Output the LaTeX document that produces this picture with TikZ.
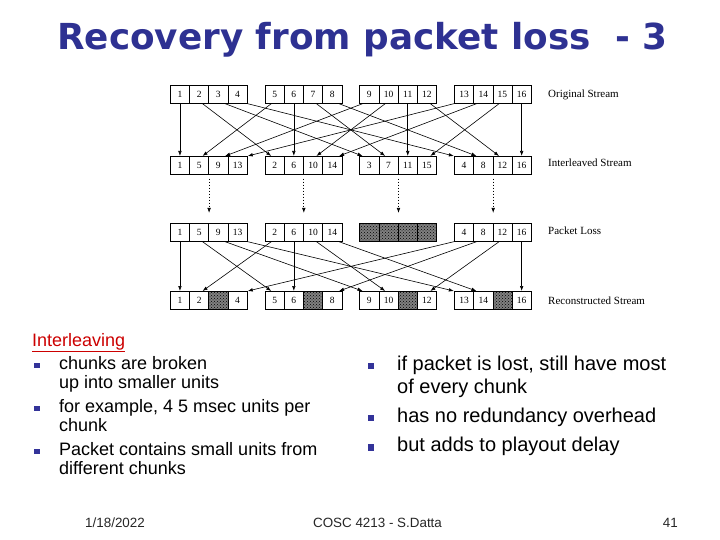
\documentclass[tikz,border=0pt]{standalone}
\usepackage{fontspec}
\setmainfont{Liberation Sans}
\newfontfamily\titlefont{DejaVu Sans}
\newfontfamily\diagfont{Liberation Serif}
\usetikzlibrary{arrows.meta,patterns}
\definecolor{titleblue}{RGB}{46,49,146}
\definecolor{bulletblue}{RGB}{51,51,153}
\definecolor{linkred}{RGB}{204,0,0}
\begin{document}
\begin{tikzpicture}[x=1pt,y=-1pt,
  cell/.style={draw=black,line width=0.7pt,minimum width=19.2pt,minimum height=18pt,
    inner sep=0pt,anchor=north west,font=\diagfont\fontsize{9.5}{10}\selectfont},
  lost/.style={cell,preaction={fill=black!50},pattern=crosshatch dots,pattern color=black},
  link/.style={line width=0.6pt,-{Latex[length=5pt,width=3.6pt]}},
  dotlink/.style={line width=0.7pt,dash pattern=on 0.8pt off 2.2pt,-{Latex[length=5pt,width=3.6pt]},
    shorten <=4pt,shorten >=10pt},
  rowlab/.style={anchor=base west,inner sep=0pt,font=\diagfont\fontsize{11}{12}\selectfont},
  lefttxt/.style={anchor=base west,inner sep=0pt,font=\fontsize{18}{20}\selectfont},
  righttxt/.style={anchor=base west,inner sep=0pt,font=\fontsize{20}{22}\selectfont},
  bulletsq/.style={fill=bulletblue,inner sep=0pt,minimum size=#1,draw=none},
  foot/.style={inner sep=0pt,text=black!85,font=\fontsize{13.4}{15}\selectfont}
]
\useasboundingbox (0,0) rectangle (720,540);

% title
\node[anchor=base west,inner sep=0pt,text=titleblue,
  font=\titlefont\bfseries\fontsize{35.8}{40}\selectfont] (title) at (57,50)
  {Recovery from packet loss\ \ - 3};

% cells
\foreach \g in {0,...,3}{
  \foreach \c in {0,...,3}{
    \pgfmathsetmacro\xx{170+94.7*\g+19.2*\c}
    \pgfmathtruncatemacro\na{4*\g+\c+1}
    \pgfmathtruncatemacro\nb{4*\c+\g+1}
    \node[cell] (1-\g-\c) at (\xx,85) {\na};
    \node[cell] (2-\g-\c) at (\xx,156) {\nb};
    \ifnum\g=2
      \node[lost] (3-\g-\c) at (\xx,223) {};
    \else
      \node[cell] (3-\g-\c) at (\xx,223) {\nb};
    \fi
    \ifnum\c=2
      \node[lost] (4-\g-\c) at (\xx,291) {};
    \else
      \node[cell] (4-\g-\c) at (\xx,291) {\na};
    \fi
  }
}

% interleaving and reconstruction links
\foreach \g in {0,...,3}{
  \foreach \c in {0,...,3}{
    \pgfmathsetmacro\sh{3.4*(\c-\g)}
    \pgfmathsetmacro\shn{-3.4*(\c-\g)}
    \draw[link] ([xshift=\sh pt]1-\g-\c.south) -- ([xshift=\shn pt]2-\c-\g.north);
    \ifnum\g=2\else
      \draw[link] ([xshift=\sh pt]3-\g-\c.south) -- ([xshift=\shn pt]4-\c-\g.north);
    \fi
  }
  \draw[dotlink] (2-\g-1.south east) -- (3-\g-1.north east);
}

% row labels
\node[rowlab] (lab1) at (548,98) {Original Stream};
\node[rowlab] (lab2) at (548,167) {Interleaved Stream};
\node[rowlab] (lab3) at (548,235) {Packet Loss};
\node[rowlab] (lab4) at (548,304) {Reconstructed Stream};

% left text
\node[lefttxt,text=linkred] (il) at (32,346) {\underline{Interleaving}};
\node[bulletsq=5.5pt] (b1) at (37,365.5) {};
\node[lefttxt] (l1) at (59,369) {chunks are broken};
\node[lefttxt] (l2) at (59,388) {up into smaller units};
\node[bulletsq=5.5pt] (b2) at (37,408.5) {};
\node[lefttxt] (l3) at (59,412) {for example, 4 5 msec units per};
\node[lefttxt] (l4) at (59,431) {chunk};
\node[bulletsq=5.5pt] (b3) at (37,451.5) {};
\node[lefttxt] (l5) at (59,455) {Packet contains small units from};
\node[lefttxt] (l6) at (59,474) {different chunks};

% right text
\node[bulletsq=6.5pt] (rb1) at (371,366) {};
\node[righttxt] (r1) at (397,370) {if packet is lost, still have most};
\node[righttxt] (r2) at (397,393) {of every chunk};
\node[bulletsq=6.5pt] (rb2) at (371,418) {};
\node[righttxt] (r3) at (397,422.5) {has no redundancy overhead};
\node[bulletsq=6.5pt] (rb3) at (371,447.5) {};
\node[righttxt] (r4) at (397,451.5) {but adds to playout delay};

% footer
\node[foot,anchor=base west] (date) at (85,527) {1/18/2022};
\node[foot,anchor=base] (course) at (377.5,527) {COSC 4213 - S.Datta};
\node[foot,anchor=base east] (page) at (678,527) {41};
\end{tikzpicture}
\end{document}
